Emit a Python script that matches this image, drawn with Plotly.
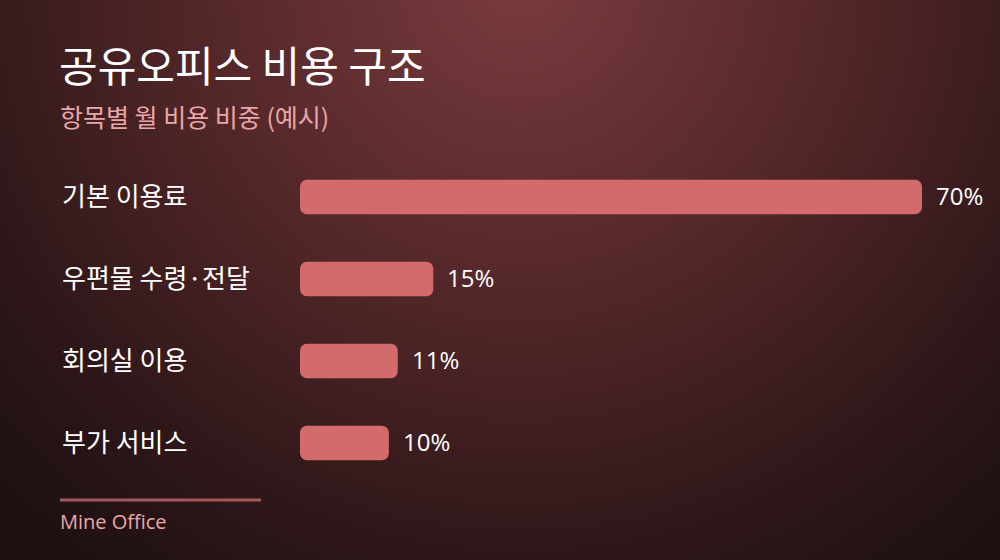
import base64
import plotly.graph_objects as go

categories = ["기본 이용료", "우편물 수령·전달", "회의실 이용", "부가 서비스"]
values = [70, 15, 11, 10]
value_labels = ["70%", "15%", "11%", "10%"]
title_text = "공유오피스 비용 구조"
subtitle_text = "항목별 월 비용 비중 (예시)"
source_text = "Mine Office"

W, H = 1000, 560
ML, MR, MT, MB = 300, 78, 156, 76
PW, PH = W - ML - MR, H - MT - MB
KR = "Noto Sans CJK KR, Noto Sans, sans-serif"
LAT = "Open Sans, Noto Sans CJK KR, sans-serif"
BAR_COLOR = "#d36a6b"
CAP = 1.5  # data-unit overlap used to round the bar's start corners too

svg = f'''<svg xmlns="http://www.w3.org/2000/svg" width="{W}" height="{H}" viewBox="0 0 {W} {H}">
<defs><radialGradient id="g" gradientUnits="userSpaceOnUse" cx="520" cy="-20" r="740">
<stop offset="0" stop-color="#7a3b3e"/>
<stop offset="0.45" stop-color="#512628"/>
<stop offset="0.8" stop-color="#2c1618"/>
<stop offset="1" stop-color="#1d1011"/>
</radialGradient></defs>
<rect width="{W}" height="{H}" fill="url(#g)"/></svg>'''
bg_uri = "data:image/svg+xml;base64," + base64.b64encode(svg.encode()).decode()


def px_to_paper_x(px):
    return (px - ML) / PW


def px_to_paper_y(py):
    return 1 - (py - MT) / PH


fig = go.Figure()
# main bar body (rounded at the far end)
fig.add_trace(go.Bar(
    x=[v - CAP for v in values], base=[CAP] * len(values), y=categories,
    orientation="h", marker=dict(color=BAR_COLOR, line=dict(width=0)),
    width=0.42, hoverinfo="skip",
))
# start cap (rounded at the zero end)
fig.add_trace(go.Bar(
    x=[-2 * CAP] * len(values), base=[2 * CAP] * len(values), y=categories,
    orientation="h", marker=dict(color=BAR_COLOR, line=dict(width=0)),
    width=0.42, hoverinfo="skip",
))

annotations = []
for c, v, lab in zip(categories, values, value_labels):
    annotations.append(dict(
        x=px_to_paper_x(60), xref="paper", y=c, yref="y", yshift=3,
        text=c, showarrow=False, xanchor="left", yanchor="middle",
        font=dict(color="#ffffff", size=26, family=KR),
    ))
    annotations.append(dict(
        x=v, xref="x", y=c, yref="y", xshift=12, yshift=2,
        text=lab, showarrow=False, xanchor="left", yanchor="middle",
        font=dict(color="#ffffff", size=24, family=LAT),
    ))
annotations.append(dict(
    x=px_to_paper_x(57), xref="paper", y=px_to_paper_y(64), yref="paper",
    text=title_text, showarrow=False, xanchor="left", yanchor="middle",
    font=dict(color="#ffffff", size=42, family=KR),
))
annotations.append(dict(
    x=px_to_paper_x(58), xref="paper", y=px_to_paper_y(116), yref="paper",
    text=subtitle_text, showarrow=False, xanchor="left", yanchor="middle",
    font=dict(color="#eaa7a8", size=25, family=KR),
))
annotations.append(dict(
    x=px_to_paper_x(58), xref="paper", y=px_to_paper_y(521), yref="paper",
    text=source_text, showarrow=False, xanchor="left", yanchor="middle",
    font=dict(color="#eaa7a8", size=20, family=LAT),
))

fig.update_layout(
    width=W, height=H,
    margin=dict(l=ML, r=MR, t=MT, b=MB, pad=0),
    paper_bgcolor="#2a1517", plot_bgcolor="rgba(0,0,0,0)",
    showlegend=False,
    barmode="overlay",
    barcornerradius=7,
    xaxis=dict(range=[0, 70], visible=False, fixedrange=True),
    yaxis=dict(autorange=False, range=[3.5, -0.5], visible=False, fixedrange=True,
               categoryorder="array", categoryarray=categories),
    annotations=annotations,
    shapes=[dict(type="line", xref="paper", yref="paper",
                 x0=px_to_paper_x(60), x1=px_to_paper_x(261),
                 y0=px_to_paper_y(500), y1=px_to_paper_y(500),
                 line=dict(color="#a3585b", width=3))],
    images=[dict(source=bg_uri, xref="paper", yref="paper",
                 x=px_to_paper_x(0), y=px_to_paper_y(0),
                 sizex=W / PW, sizey=H / PH,
                 xanchor="left", yanchor="top", sizing="stretch", layer="below")],
    font=dict(family=KR),
)

fig.write_html("out.html", config={"displayModeBar": False},
               post_script="document.body.style.margin='0';document.body.style.background='#1d1011';")
